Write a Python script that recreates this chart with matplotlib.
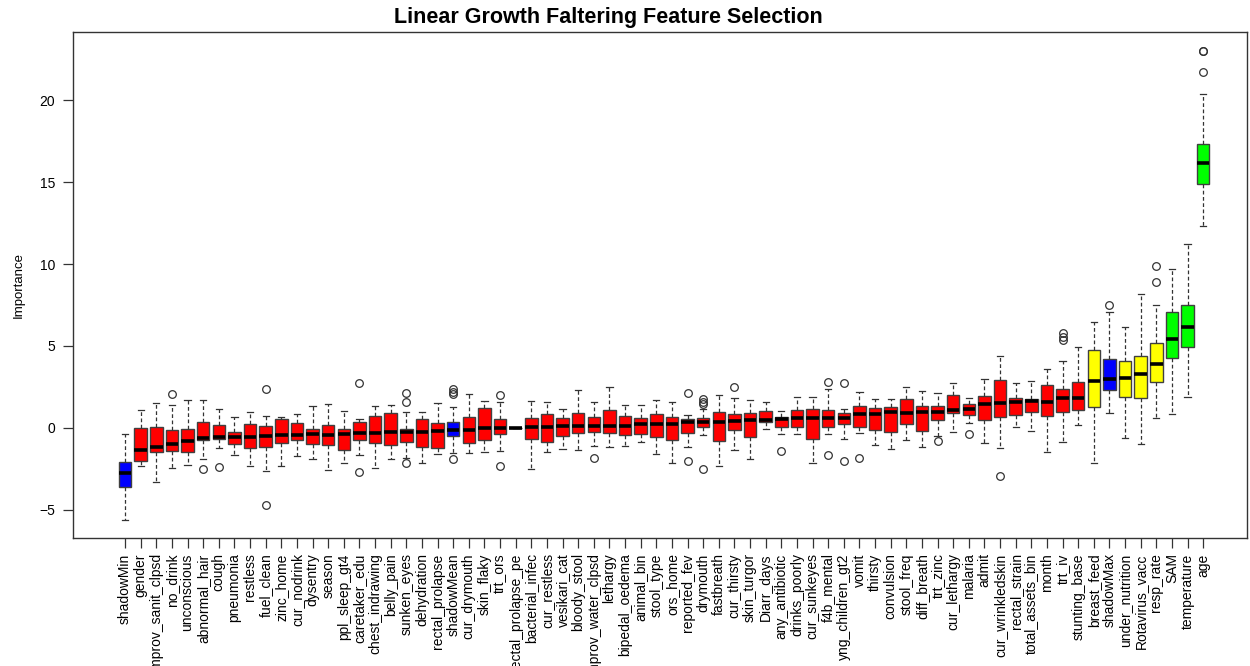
import matplotlib
matplotlib.use('Agg')
import matplotlib.pyplot as plt

plt.rcParams['font.family'] = ['Liberation Sans', 'DejaVu Sans']

# feature names, ordered by median importance
names = ['shadowMin', 'gender', 'improv_sanit_clpsd', 'no_drink', 'unconscious',
         'abnormal_hair', 'cough', 'pneumonia', 'restless', 'fuel_clean',
         'zinc_home', 'cur_nodrink', 'dysentry', 'season', 'ppl_sleep_gt4',
         'caretaker_edu', 'chest_indrawing', 'belly_pain', 'sunken_eyes', 'dehydration',
         'rectal_prolapse', 'shadowMean', 'cur_drymouth', 'skin_flaky', 'trt_ors',
         'rectal_prolapse_pe', 'bacterial_infec', 'cur_restless', 'vesikari_cat', 'bloody_stool',
         'improv_water_clpsd', 'lethargy', 'bipedal_oedema', 'animal_bin', 'stool_type',
         'ors_home', 'reported_fev', 'drymouth', 'fastbreath', 'cur_thirsty',
         'skin_turgor', 'Diarr_days', 'any_antibiotic', 'drinks_poorly', 'cur_sunkeyes',
         'f4b_mental', 'yng_children_gt2', 'vomit', 'thirsty', 'convulsion',
         'stool_freq', 'diff_breath', 'trt_zinc', 'cur_lethargy', 'malaria',
         'admit', 'cur_wrinkledskin', 'rectal_strain', 'total_assets_bin', 'month',
         'trt_iv', 'stunting_base', 'breast_feed', 'shadowMax', 'under_nutrition',
         'Rotavirus_vacc', 'resp_rate', 'SAM', 'temperature', 'age']

# decision: R = rejected, T = tentative, C = confirmed, S = shadow
decision = (['S'] + ['R'] * 20 + ['S'] + ['R'] * 40 + ['T', 'S'] + ['T'] * 3
            + ['C'] * 3)

whislo = [-5.61, -2.32, -3.27, -2.44, -2.26, -1.91, -1.20, -1.63, -2.34, -2.60,
          -2.34, -1.71, -1.87, -2.54, -2.13, -1.65, -2.42, -1.87, -1.83, -2.15,
          -1.59, -1.54, -1.50, -1.46, -1.40, 0.0, -2.52, -1.46, -1.28, -1.36,
          -1.10, -1.18, -1.10, -0.87, -1.60, -2.11, -1.18, -0.45, -2.34, -1.36,
          -1.87, -0.06, -0.39, -0.39, -2.15, -0.39, -0.69, -0.30, -1.06, -1.30,
          -0.75, -1.18, -0.51, -0.22, 0.28, -0.93, -1.24, 0.08, -0.18, -1.46,
          -0.83, 0.18, -2.15, 0.93, -0.59, -0.98, 0.59, 0.87, 1.91, 12.32]
q1 = [-3.58, -1.99, -1.46, -1.40, -1.48, -0.73, -0.69, -0.96, -1.24, -1.18,
      -0.90, -0.73, -1.00, -1.04, -1.32, -0.73, -0.90, -1.04, -0.85, -1.14,
      -1.22, -0.49, -0.90, -0.75, -0.37, 0.0, -0.69, -0.85, -0.49, -0.32,
      -0.22, -0.29, -0.41, -0.37, -0.53, -0.73, -0.29, 0.04, -0.81, -0.10,
      -0.53, 0.35, 0.08, 0.04, -0.65, 0.08, 0.22, 0.08, -0.12, -0.24,
      0.22, -0.16, 0.49, 0.89, 0.79, 0.49, 0.69, 0.77, 0.96, 0.75,
      0.96, 1.10, 1.30, 2.32, 1.89, 1.85, 2.80, 4.25, 4.92, 14.88]
med = [-2.72, -1.36, -1.14, -0.98, -0.79, -0.59, -0.53, -0.53, -0.53, -0.49,
       -0.41, -0.41, -0.39, -0.41, -0.37, -0.29, -0.29, -0.24, -0.24, -0.24,
       -0.18, -0.12, -0.10, -0.02, -0.02, 0.0, 0.06, 0.06, 0.10, 0.10,
       0.10, 0.14, 0.14, 0.24, 0.26, 0.26, 0.37, 0.37, 0.39, 0.45,
       0.51, 0.49, 0.57, 0.63, 0.63, 0.63, 0.63, 0.87, 0.87, 0.96,
       0.93, 0.96, 0.99, 1.10, 1.14, 1.44, 1.54, 1.57, 1.63, 1.59,
       1.85, 1.85, 2.89, 3.01, 3.05, 3.29, 3.88, 5.43, 6.18, 16.14]
q3 = [-2.09, 0.00, 0.04, -0.14, -0.04, 0.35, 0.20, -0.26, 0.24, 0.12,
      0.55, 0.28, -0.04, 0.16, -0.08, 0.35, 0.73, 0.93, -0.04, 0.53,
      0.28, 0.35, 0.67, 1.24, 0.53, 0.0, 0.63, 0.87, 0.63, 0.93,
      0.67, 1.12, 0.71, 0.59, 0.87, 0.67, 0.55, 0.63, 0.98, 0.87,
      0.93, 1.04, 0.67, 1.12, 1.16, 1.10, 0.93, 1.34, 1.24, 1.28,
      1.79, 1.34, 1.34, 2.01, 1.44, 1.95, 2.93, 1.85, 1.79, 2.64,
      2.36, 2.80, 4.78, 4.19, 4.10, 4.41, 5.16, 7.07, 7.48, 17.30]
whishi = [-0.37, 1.08, 1.54, 1.40, 1.69, 1.73, 1.16, 0.67, 0.99, 0.71,
          0.65, 0.87, 1.32, 1.46, 1.04, 0.53, 1.36, 1.40, 0.99, 0.99,
          1.50, 1.30, 2.07, 1.65, 1.61, 0.0, 1.65, 1.61, 1.16, 2.34,
          1.59, 2.50, 1.40, 1.40, 1.69, 1.59, 0.79, 1.16, 2.03, 1.85,
          1.73, 1.61, 1.02, 1.87, 1.91, 2.36, 1.16, 2.21, 1.75, 1.79,
          2.52, 2.28, 2.11, 2.72, 1.81, 3.01, 4.41, 2.72, 2.87, 3.60,
          4.10, 4.94, 6.46, 7.05, 6.18, 8.15, 7.50, 9.71, 11.22, 20.37]
# outlying points per feature (index into names)
outliers = {3: [2.07], 5: [-2.50], 6: [-2.38], 9: [2.40, -4.71],
            15: [2.76, -2.66], 18: [2.11, 1.57, -2.11],
            21: [2.38, 2.21, 2.07, -1.91], 24: [1.99, -2.30], 30: [-1.83],
            36: [2.11, -1.99], 37: [1.75, 1.59, 1.44, -2.52], 39: [2.52],
            42: [-1.42], 45: [2.80, -1.63], 46: [2.76, -2.03], 47: [-1.83],
            52: [-0.77], 54: [-0.39], 56: [-2.91], 60: [5.77, 5.57, 5.37],
            63: [7.48], 66: [9.90, 8.92], 69: [23.0, 23.0, 21.73]}

colors = {'R': '#ff0000', 'T': '#ffff00', 'C': '#00ff00', 'S': '#0000ff'}

stats = []
for i, name in enumerate(names):
    stats.append({'label': name, 'whislo': whislo[i], 'q1': q1[i], 'med': med[i],
                  'q3': q3[i], 'whishi': whishi[i], 'fliers': outliers.get(i, [])})

fig = plt.figure(figsize=(12.5, 6.66), dpi=100)
W, H = 1250, 666
ax = fig.add_axes([73 / W, 1 - 538 / H, (1247 - 73) / W, (538 - 32) / H])

positions = list(range(1, len(names) + 1))
bp = ax.bxp(stats, positions=positions, widths=0.8, patch_artist=True,
            capwidths=0.4,
            boxprops=dict(edgecolor='#404040', linewidth=1.0),
            medianprops=dict(color='black', linewidth=2.6),
            whiskerprops=dict(color='#333333', linewidth=0.9, linestyle=(0, (3, 2))),
            capprops=dict(color='#333333', linewidth=0.9),
            flierprops=dict(marker='o', markerfacecolor='none', markeredgecolor='#333333',
                            markersize=5.5, markeredgewidth=0.9))
for patch, d in zip(bp['boxes'], decision):
    patch.set_facecolor(colors[d])

ax.set_xlim(-2.33, 72.8)
ax.set_ylim(-6.71, 24.15)
ax.set_yticks([-5, 0, 5, 10, 15, 20])
ax.set_xticks(positions)
ax.set_xticklabels(names, rotation=90)
ax.tick_params(axis='both', direction='out', length=7, width=0.9, color='#333333',
               labelsize=10)
ax.tick_params(axis='x', pad=4, labelsize=10)
ax.tick_params(axis='y', pad=6)
for sp in ax.spines.values():
    sp.set_color('#333333')
    sp.set_linewidth(1.0)

ax.set_ylabel('Importance', fontsize=9.5, labelpad=10)
fig.text(608 / W, 1 - 17 / H, 'Linear Growth Faltering Feature Selection',
         ha='center', va='center', fontsize=15.5, fontweight='bold')

plt.savefig('out.png', dpi=100)
